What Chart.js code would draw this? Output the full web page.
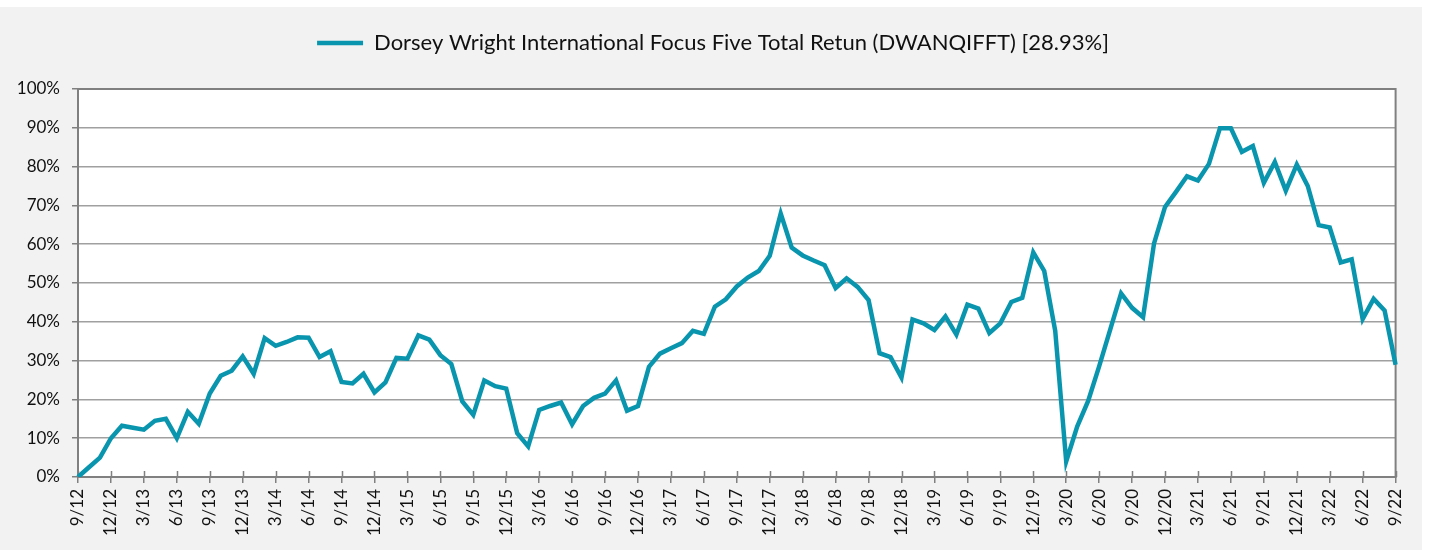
<!DOCTYPE html>
<html>
<head>
<meta charset="utf-8">
<script src="https://cdn.jsdelivr.net/npm/chart.js@4/dist/chart.umd.min.js"></script>
<style>
  body { margin: 0; background: #fff; }
  #wrap { position: absolute; left: 0; top: 7px; width: 1422px; height: 543px; background: #f2f2f2; }
</style>
</head>
<body>
<div id="wrap"><canvas id="myChart" width="1422" height="543"></canvas></div>
<script>
"use strict";

// monthly points, 9/12 .. 9/22
var months = [];
for (var m = 0; m <= 120; m++) {
    var mon = (8 + m) % 12 + 1;
    var yr = 12 + Math.floor((8 + m) / 12);
    months.push(mon + '/' + yr);
}

var seriesName = 'Dorsey Wright International Focus Five Total Retun (DWANQIFFT) [28.93%]';

var totalReturn = [
    0, 2.5, 5.0, 10.0, 13.2, 12.7, 12.2, 14.5, 15.0, 10.0, 16.8, 13.7,
    21.5, 26.1, 27.4, 31.1, 26.6, 35.8, 33.8, 34.8, 36.0, 35.9, 30.9, 32.4,
    24.5, 24.1, 26.6, 21.8, 24.4, 30.7, 30.5, 36.5, 35.4, 31.4, 29.1, 19.5,
    16.0, 24.9, 23.4, 22.8, 11.3, 7.9, 17.3, 18.3, 19.2, 13.6, 18.3, 20.4,
    21.5, 24.9, 17.1, 18.3, 28.4, 31.8, 33.2, 34.5, 37.7, 36.9, 43.9, 45.8,
    49.1, 51.4, 53.1, 57.0, 67.9, 59.1, 57.1, 55.8, 54.6, 48.7, 51.2, 49.0,
    45.6, 31.9, 30.9, 25.6, 40.6, 39.6, 37.9, 41.4, 36.7, 44.4, 43.4, 37.1,
    39.6, 45.1, 46.2, 57.9, 53.1, 37.7, 4.0, 13.0, 19.6, 28.5, 37.9, 47.3,
    43.6, 41.2, 60.2, 69.6, 73.5, 77.5, 76.4, 80.7, 89.9, 89.9, 83.8, 85.3,
    75.8, 81.2, 73.8, 80.5, 75.0, 64.9, 64.3, 55.3, 56.1, 40.7, 45.9, 42.9,
    28.93
];

var yTicks = [0, 10, 20, 30, 40, 50, 60, 70, 80, 90, 100];

var lineColor = '#0a95ae';
var axisColor = '#808080';
var gridColor = '#a0a0a0';
var textColor = '#111';
var fontFamily = 'Lato, "Open Sans", sans-serif';

// white plot area, frame, and small tick marks above the x axis
var frame = {
    id: 'frame',
    afterInit: function (chart) {
        var lg = chart.legend;
        // extra space under the legend
        var fit = lg.fit;
        lg.fit = function () {
            fit.call(this);
            this.height += 25;
        };
        // legend sits a bit right of centre in the original
        var draw = lg.draw;
        lg.draw = function () {
            var ctx = this.ctx;
            ctx.save();
            ctx.translate(14, 0);
            draw.apply(this, arguments);
            ctx.restore();
        };
    },
    beforeDraw: function (chart) {
        var a = chart.chartArea, ctx = chart.ctx;
        ctx.save();
        ctx.fillStyle = '#fff';
        ctx.fillRect(a.left, a.top, a.right - a.left, a.bottom - a.top);
        ctx.restore();
    },
    beforeDatasetsDraw: function (chart) {
        var a = chart.chartArea, ctx = chart.ctx, xs = chart.scales.x;
        ctx.save();
        ctx.strokeStyle = axisColor;
        ctx.lineWidth = 2;
        ctx.strokeRect(a.left, a.top, a.right - a.left, a.bottom - a.top);
        ctx.lineWidth = 1.5;
        ctx.beginPath();
        for (var i = 0; i < months.length; i += 3) {
            var px = Math.round(xs.getPixelForValue(i)) + 0.5;
            ctx.moveTo(px, a.bottom - 6);
            ctx.lineTo(px, a.bottom);
        }
        ctx.stroke();
        ctx.restore();
    }
};

new Chart(document.getElementById('myChart'), {
    type: 'line',
    data: {
        labels: months,
        datasets: [{
            label: seriesName,
            data: totalReturn,
            borderColor: lineColor,
            backgroundColor: lineColor,
            borderWidth: 4.5,
            pointRadius: 0,
            pointStyle: 'line',
            tension: 0
        }]
    },
    options: {
        responsive: false,
        animation: false,
        layout: { padding: { top: 5, right: 24, left: 0, bottom: 0 } },
        plugins: {
            legend: {
                position: 'top',
                labels: {
                    usePointStyle: true,
                    pointStyleWidth: 46,
                    padding: 20,
                    color: textColor,
                    font: { family: fontFamily, size: 22 }
                }
            },
            tooltip: { enabled: false }
        },
        scales: {
            x: {
                ticks: {
                    autoSkip: false,
                    maxRotation: 90,
                    minRotation: 90,
                    padding: 6,
                    color: textColor,
                    font: { family: fontFamily, size: 17 },
                    callback: function (v, i) { return i % 3 === 0 ? months[i] : null; }
                },
                grid: { drawOnChartArea: false, color: axisColor, lineWidth: 1.5, tickLength: 6 },
                border: { color: axisColor, width: 2 },
                afterFit: function (scale) { scale.height = 73; }
            },
            y: {
                min: 0,
                max: 100,
                afterBuildTicks: function (scale) {
                    scale.ticks = yTicks.map(function (v) { return { value: v }; });
                },
                ticks: {
                    padding: 12,
                    color: textColor,
                    font: { family: fontFamily, size: 17 },
                    callback: function (v) { return v + '%'; }
                },
                grid: { color: gridColor, lineWidth: 1.5, tickColor: axisColor, tickLength: 6 },
                border: { color: axisColor, width: 2 },
                afterFit: function (scale) { scale.width = 78; }
            }
        }
    },
    plugins: [frame]
});
</script>
</body>
</html>
